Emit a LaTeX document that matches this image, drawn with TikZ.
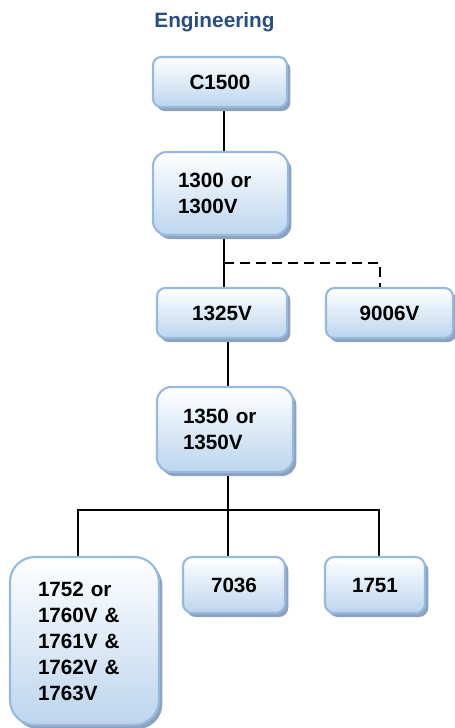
\documentclass[tikz,border=0pt]{standalone}
\usepackage{fontspec}
\setmainfont{Liberation Sans}
\usetikzlibrary{shadows,backgrounds}
\definecolor{boxborder}{RGB}{150,185,222}
\definecolor{boxbottom}{RGB}{188,213,238}
\definecolor{boxshadow}{RGB}{140,162,192}
\definecolor{titleblue}{RGB}{40,78,128}
\tikzset{
  orgbox/.style={draw=boxborder, line width=1.6pt, top color=white, bottom color=boxbottom,
    drop shadow={shadow xshift=2.5pt, shadow yshift=-3pt, fill=boxshadow, opacity=1},
    font=\fontsize{15.5}{19.5}\selectfont\bfseries, inner sep=0pt},
  link/.style={line width=1.5pt, black},
}
\begin{document}
\begin{tikzpicture}[x=0.75pt,y=-0.75pt]
\useasboundingbox (0,0) rectangle (454,728);

\node[font=\fontsize{15.6}{18}\selectfont\bfseries, text=titleblue, anchor=base] (title) at (214.5,27) {Engineering};

\node[orgbox, rounded corners=6.25pt, minimum width=100.5pt, minimum height=37.5pt] (c1500) at (220,82) {C1500};
\node[orgbox, rounded corners=10.4pt, minimum height=62.25pt, text width=63.75pt, inner xsep=18.75pt, align=left] (n1300) at (220.5,193.5) {1300 or\\1300V};
\node[orgbox, rounded corners=6.25pt, minimum width=97.5pt, minimum height=37.5pt] (n1325) at (222,313) {1325V};
\node[orgbox, rounded corners=6.25pt, minimum width=95.25pt, minimum height=37.5pt] (n9006) at (389.5,313) {9006V};
\node[orgbox, rounded corners=10.6pt, minimum height=63.75pt, text width=63pt, inner xsep=19.5pt, align=left] (n1350) at (225,429.5) {1350 or\\1350V};
\node[orgbox, rounded corners=18.6pt, minimum height=126pt, text width=69.75pt, inner xsep=21pt, align=left] (n1752) at (84.5,641) {1752 or\\1760V \&\\1761V \&\\1762V \&\\1763V};
\node[orgbox, rounded corners=7pt, minimum width=76.5pt, minimum height=42pt] (n7036) at (234,585) {7036};
\node[orgbox, rounded corners=7pt, minimum width=75pt, minimum height=42pt] (n1751) at (375,585) {1751};

\coordinate (xa) at (224,0);
\coordinate (xb) at (228,0);
\coordinate (xd) at (380,0);
\coordinate (xl) at (78,0);
\coordinate (xr) at (379,0);
\coordinate (jd) at (224,263);
\coordinate (bus) at (228,510);

\begin{pgfonlayer}{background}
\draw[link] (c1500.south -| xa) -- (n1300.north -| xa);
\draw[link] (n1300.south -| xa) -- (n1325.north -| xa);
\draw[link, dash pattern=on 7.5pt off 4.5pt] (jd) -| (n9006.north -| xd);
\draw[link] (n1325.south -| xb) -- (n1350.north -| xb);
\draw[link] (n1350.south -| xb) -- (n7036.north -| xb);
\draw[link] (n1752.north -| xl) -- (xl |- bus) -- (xr |- bus) -- (n1751.north -| xr);
\end{pgfonlayer}
\end{tikzpicture}
\end{document}
